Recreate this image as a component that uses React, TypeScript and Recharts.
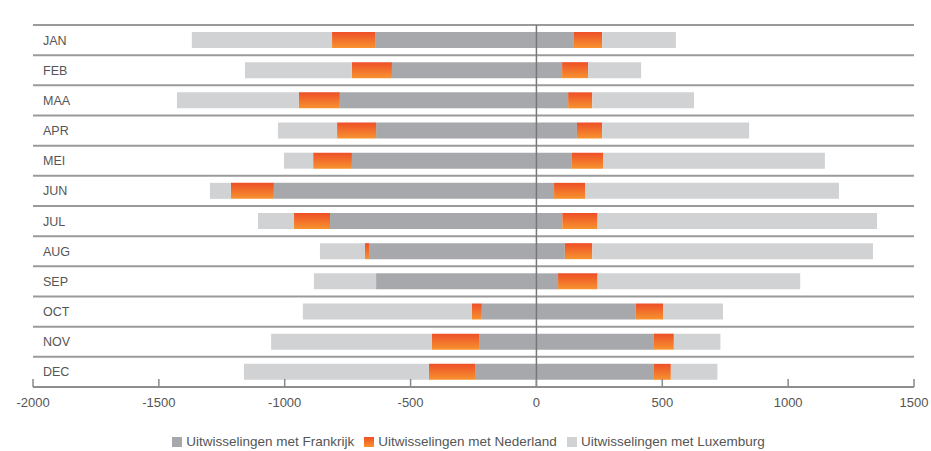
import React from 'react';
import {
  BarChart,
  Bar,
  XAxis,
  YAxis,
  CartesianGrid,
  Legend,
  ReferenceLine,
} from 'recharts';

// Months (rows, top to bottom)
const MONTHS = ['JAN', 'FEB', 'MAA', 'APR', 'MEI', 'JUN', 'JUL', 'AUG', 'SEP', 'OCT', 'NOV', 'DEC'];

// Invoer (negative) per partner country
const FR_IMPORT = [-641, -574, -781, -637, -733, -1043, -820, -665, -637, -217, -228, -244];
const NL_IMPORT = [-171, -159, -163, -155, -154, -171, -143, -16, 0, -39, -187, -183];
const LU_IMPORT = [-557, -425, -484, -235, -116, -83, -143, -179, -247, -672, -639, -735];

// Uitvoer (positive) per partner country
const FR_EXPORT = [149, 102, 126, 161, 141, 70, 103, 113, 86, 395, 467, 467];
const NL_EXPORT = [112, 103, 96, 100, 125, 123, 140, 109, 157, 108, 79, 67];
const LU_EXPORT = [293, 211, 404, 584, 880, 1009, 1110, 1115, 805, 238, 185, 185];

const X_TICKS = [-2000, -1500, -1000, -500, 0, 500, 1000, 1500];
const SIDE_TICKS = [-1000, 750];
const SIDE_LABELS = ['Invoer', 'Uitvoer'];
const LEGEND_NAMES = [
  'Uitwisselingen met Frankrijk',
  'Uitwisselingen met Nederland',
  'Uitwisselingen met Luxemburg',
];

const COLORS = {
  fr: '#a7a8ab',
  nl: 'url(#nlGradient)',
  lu: '#d1d2d4',
  grid: '#9a9a9a',
  text: '#555555',
};

const data = MONTHS.map((month, i) => ({
  month,
  frImport: FR_IMPORT[i],
  frExport: FR_EXPORT[i],
  nlImport: NL_IMPORT[i],
  nlExport: NL_EXPORT[i],
  luImport: LU_IMPORT[i],
  luExport: LU_EXPORT[i],
}));

const FONT = '"Liberation Sans", Arial, sans-serif';

export default function App() {
  return (
    <div style={{ width: 931, height: 451, fontFamily: FONT }}>
      <style>{'body{margin:0}'}</style>
      <BarChart
        width={931}
        height={451}
        data={data}
        layout="vertical"
        stackOffset="sign"
        margin={{ top: 0, right: 17, left: 33, bottom: 0 }}
      >
        <defs>
          <linearGradient id="nlGradient" x1="0" y1="0" x2="0" y2="1">
            <stop offset="0%" stopColor="#ee4f27" />
            <stop offset="100%" stopColor="#f7932f" />
          </linearGradient>
        </defs>

        {/* row separators sit between the months, not on them */}
        <CartesianGrid
          vertical={false}
          stroke={COLORS.grid}
          strokeWidth={2}
          horizontalCoordinatesGenerator={({ offset }: any) =>
            MONTHS.map((_, i) => offset.top + (i * offset.height) / MONTHS.length).concat(
              offset.top + offset.height
            )
          }
        />

        <XAxis
          type="number"
          domain={[-2000, 1500]}
          ticks={X_TICKS}
          interval={0}
          height={44}
          stroke="#8a8a8a"
          strokeWidth={1.5}
          tickSize={-8}
          tickMargin={19}
          tick={{ fill: COLORS.text, fontSize: 13 }}
        />
        <XAxis
          xAxisId="side"
          orientation="top"
          type="number"
          domain={[-2000, 1500]}
          ticks={SIDE_TICKS}
          interval={0}
          height={25}
          axisLine={false}
          tickLine={false}
          tickSize={0}
          tickMargin={6}
          tickFormatter={(v) => SIDE_LABELS[SIDE_TICKS.indexOf(v)]}
          tick={{ fill: COLORS.text, fontSize: 13 }}
        />
        <YAxis
          type="category"
          dataKey="month"
          mirror
          axisLine={false}
          tickLine={false}
          tickSize={0}
          tickMargin={10}
          tick={{ fill: COLORS.text, fontSize: 12.5 }}
        />

        <Legend
          verticalAlign="bottom"
          iconType="square"
          iconSize={10}
          itemSorter={(item: any) => LEGEND_NAMES.indexOf(item.value)}
          wrapperStyle={{ height: 20, paddingTop: 3, boxSizing: 'border-box', fontSize: 13.5 }}
          formatter={(value) => <span style={{ color: COLORS.text }}>{value}</span>}
        />

        <Bar dataKey="frImport" name={LEGEND_NAMES[0]} stackId="a" fill={COLORS.fr} barSize={16} isAnimationActive={false} />
        <Bar dataKey="frExport" legendType="none" stackId="a" fill={COLORS.fr} barSize={16} isAnimationActive={false} />
        <Bar dataKey="nlImport" name={LEGEND_NAMES[1]} stackId="a" fill={COLORS.nl} barSize={16} isAnimationActive={false} />
        <Bar dataKey="nlExport" legendType="none" stackId="a" fill={COLORS.nl} barSize={16} isAnimationActive={false} />
        <Bar dataKey="luImport" name={LEGEND_NAMES[2]} stackId="a" fill={COLORS.lu} barSize={16} isAnimationActive={false} />
        <Bar dataKey="luExport" legendType="none" stackId="a" fill={COLORS.lu} barSize={16} isAnimationActive={false} />

        <ReferenceLine x={0} stroke="#777" strokeWidth={1.5} />
      </BarChart>
    </div>
  );
}
